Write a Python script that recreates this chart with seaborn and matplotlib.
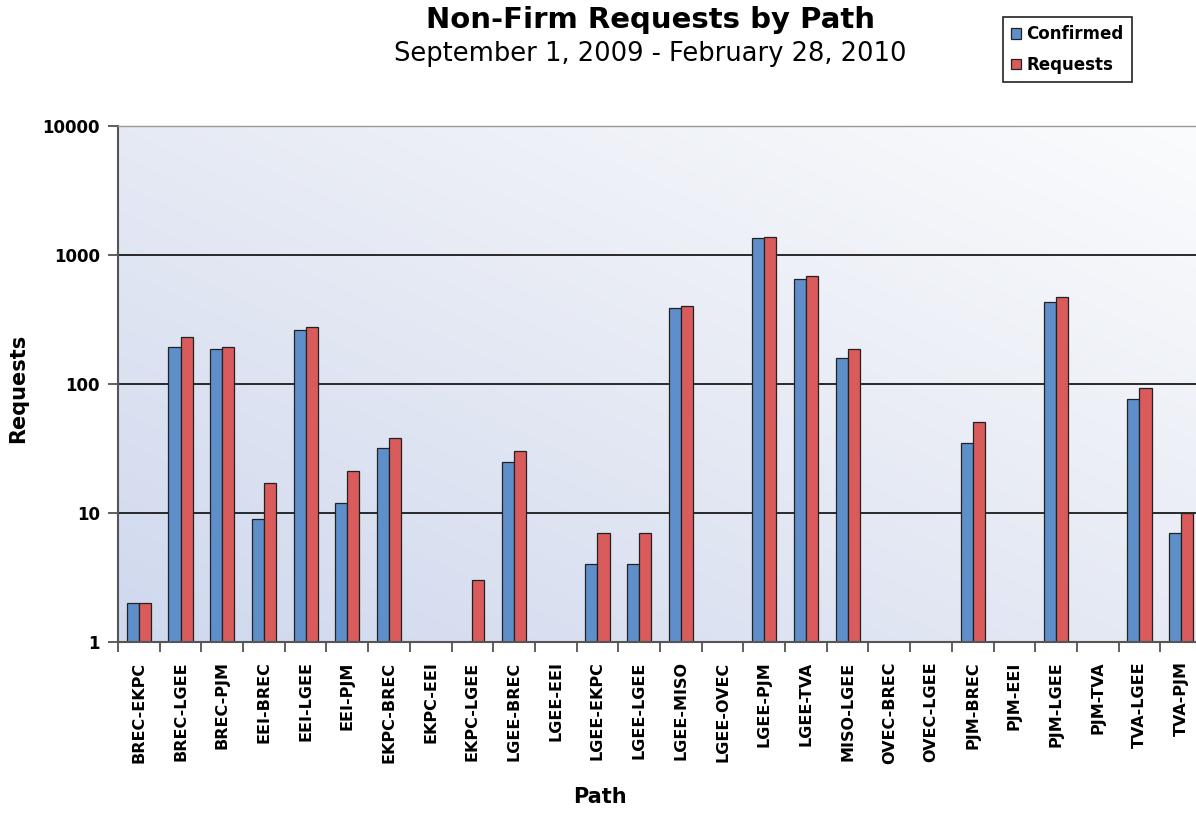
import matplotlib
matplotlib.use("Agg")
import matplotlib.pyplot as plt
from matplotlib.colors import LinearSegmentedColormap
from matplotlib.patches import Patch
from matplotlib.ticker import FixedLocator, NullFormatter
import seaborn as sns
import numpy as np
import pandas as pd

# data
paths = ["BREC-EKPC", "BREC-LGEE", "BREC-PJM", "EEI-BREC", "EEI-LGEE", "EEI-PJM",
         "EKPC-BREC", "EKPC-EEI", "EKPC-LGEE", "LGEE-BREC", "LGEE-EEI", "LGEE-EKPC",
         "LGEE-LGEE", "LGEE-MISO", "LGEE-OVEC", "LGEE-PJM", "LGEE-TVA", "MISO-LGEE",
         "OVEC-BREC", "OVEC-LGEE", "PJM-BREC", "PJM-EEI", "PJM-LGEE", "PJM-TVA",
         "TVA-LGEE", "TVA-PJM"]
confirmed = [2, 195, 186, 9, 262, 12, 32, 0, 0, 25, 0, 4, 4, 391, 0, 1347, 655, 159,
             0, 0, 35, 0, 430, 0, 76, 7]
requests = [2, 233, 195, 17, 278, 21, 38, 0, 3, 30, 0, 7, 7, 400, 0, 1379, 688, 186,
            0, 0, 51, 0, 475, 0, 93, 10]
series = ["Confirmed", "Requests"]
colors = ["#5f8fca", "#d95b5b"]

df = pd.DataFrame({
    "Path": paths * 2,
    "Value": confirmed + requests,
    "Series": [series[0]] * len(paths) + [series[1]] * len(paths),
})

sns.set_style("white")
plt.rcParams["font.family"] = ["DejaVu Sans"]
plt.rcParams["text.color"] = "black"
plt.rcParams["axes.labelcolor"] = "black"
plt.rcParams["xtick.color"] = "black"
plt.rcParams["ytick.color"] = "black"

W, H = 1196, 813
fig = plt.figure(figsize=(W / 100, H / 100), dpi=100)
ax = fig.add_axes([118 / W, (H - 642) / H, 1084 / W, 516 / H])

# diagonal background gradient
cmap = LinearSegmentedColormap.from_list("bg", ["#cfd8ee", "#e6eaf4", "#fbfcfd"])
gx, gy = np.meshgrid(np.linspace(0, 1, 200), np.linspace(1, 0, 200))
ax.imshow((gx + gy) / 2, cmap=cmap, extent=[0, 1, 0, 1], transform=ax.transAxes,
          aspect="auto", zorder=0, interpolation="bicubic")

sns.barplot(data=df, x="Path", y="Value", hue="Series", palette=colors, saturation=1,
            width=0.58, edgecolor="#222222", linewidth=0.9, legend=False,
            errorbar=None, ax=ax, zorder=2)

ax.set_yscale("log")
ax.set_ylim(1, 10000)
ax.set_xlim(-0.5, len(paths) - 0.5)

# horizontal grid lines
ax.set_axisbelow(True)
ax.yaxis.grid(True, which="major", color="#1a1a1a", linewidth=1.3)
ax.yaxis.set_minor_locator(FixedLocator([]))

ax.set_yticks([1, 10, 100, 1000, 10000])
ax.set_yticklabels(["1", "10", "100", "1000", "10000"], fontsize=12, fontweight="bold")
ax.tick_params(axis="y", which="major", direction="out", length=7, width=1.2,
               color="#444444", pad=6, left=True)

ax.set_xticks(range(len(paths)))
ax.set_xticklabels(paths, rotation=90, fontsize=11.5, fontweight="bold")
ax.xaxis.set_minor_locator(FixedLocator(np.arange(-0.5, len(paths), 1.0)))
ax.xaxis.set_minor_formatter(NullFormatter())
ax.tick_params(axis="x", which="major", length=0, pad=14)
ax.tick_params(axis="x", which="minor", direction="out", length=7, width=1.2,
               color="#444444", bottom=True)

for side in ["left", "bottom"]:
    ax.spines[side].set_color("#555555")
    ax.spines[side].set_linewidth(1.5)
ax.spines["top"].set_color("#999999")
ax.spines["top"].set_linewidth(1.0)
ax.spines["right"].set_visible(False)

ax.set_xlabel("Path", fontsize=15, fontweight="bold")
ax.set_ylabel("Requests", fontsize=15, fontweight="bold")
ax.xaxis.set_label_coords((600 - 118) / 1084, -(787 - 642) / 516)
ax.yaxis.set_label_coords(-(118 - 28) / 1084, (642 - 388) / 516)

fig.text(650 / W, 1 - 20 / H, "Non-Firm Requests by Path", ha="center", va="center",
         fontsize=21, fontweight="bold")
fig.text(650 / W, 1 - 54 / H, "September 1, 2009 - February 28, 2010", ha="center",
         va="center", fontsize=18.5)

handles = [Patch(facecolor=c, edgecolor="#222222", linewidth=0.9) for c in colors]
leg = fig.legend(handles, series, loc="upper left",
                 bbox_to_anchor=(1003 / W, 1 - 17 / H), borderaxespad=0,
                 frameon=True, fancybox=False,
                 edgecolor="#222222", framealpha=1, handlelength=0.6, handleheight=0.6,
                 handletextpad=0.3, labelspacing=0.75, borderpad=0.5,
                 prop={"weight": "bold", "size": 12})
leg.get_frame().set_linewidth(1.2)

fig.savefig("out.png", dpi=100)
